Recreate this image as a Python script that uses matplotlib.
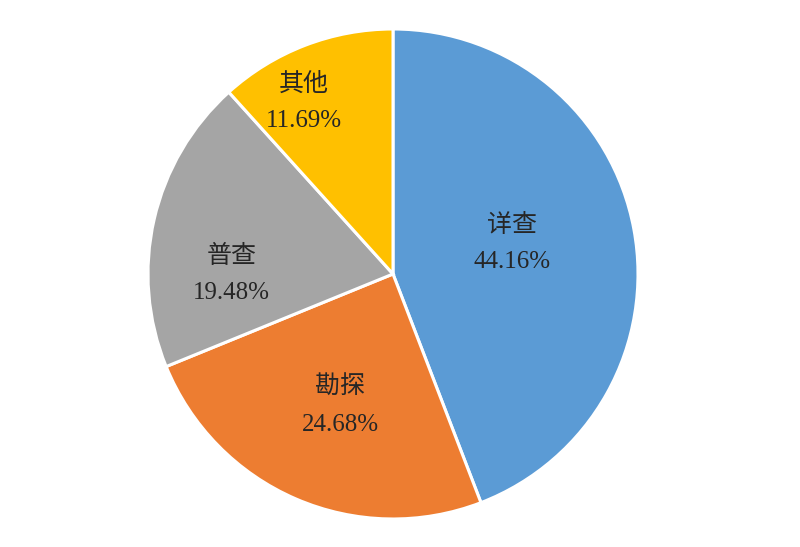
import numpy as np
import matplotlib
matplotlib.use("Agg")
import matplotlib.pyplot as plt

labels = ["详查", "勘探", "普查", "其他"]
values = [44.16, 24.68, 19.48, 11.69]
colors = ["#5B9BD5", "#ED7D31", "#A5A5A5", "#FFC000"]
# radial position of each label, as fraction of radius
label_r = [0.50, 0.58, 0.66, 0.79]
label_shift = [4, 1.5, 13, 6.5]  # small angular shift (deg) like the source

fig = plt.figure(figsize=(8, 5.47), dpi=100)
ax = fig.add_axes([0.185, 0.0512, 0.6125, 0.8958])

wedges, _ = ax.pie(values, colors=colors, startangle=90, counterclock=False,
                   radius=1.0, wedgeprops=dict(edgecolor="white", linewidth=2.2))

for w, lab, v, r, sh in zip(wedges, labels, values, label_r, label_shift):
    mid = np.deg2rad((w.theta1 + w.theta2) / 2 + sh)
    x, y = r * np.cos(mid), r * np.sin(mid)
    ax.text(x, y, f"{lab}\n{v:.2f}%", ha="center", va="center", fontsize=18,
            color="#262626", linespacing=1.85,
            family=["Liberation Serif", "Noto Sans CJK SC"])

ax.set_xlim(-1, 1)
ax.set_ylim(-1, 1)
ax.set_aspect("equal")
ax.axis("off")

fig.savefig("out.png", dpi=100)
